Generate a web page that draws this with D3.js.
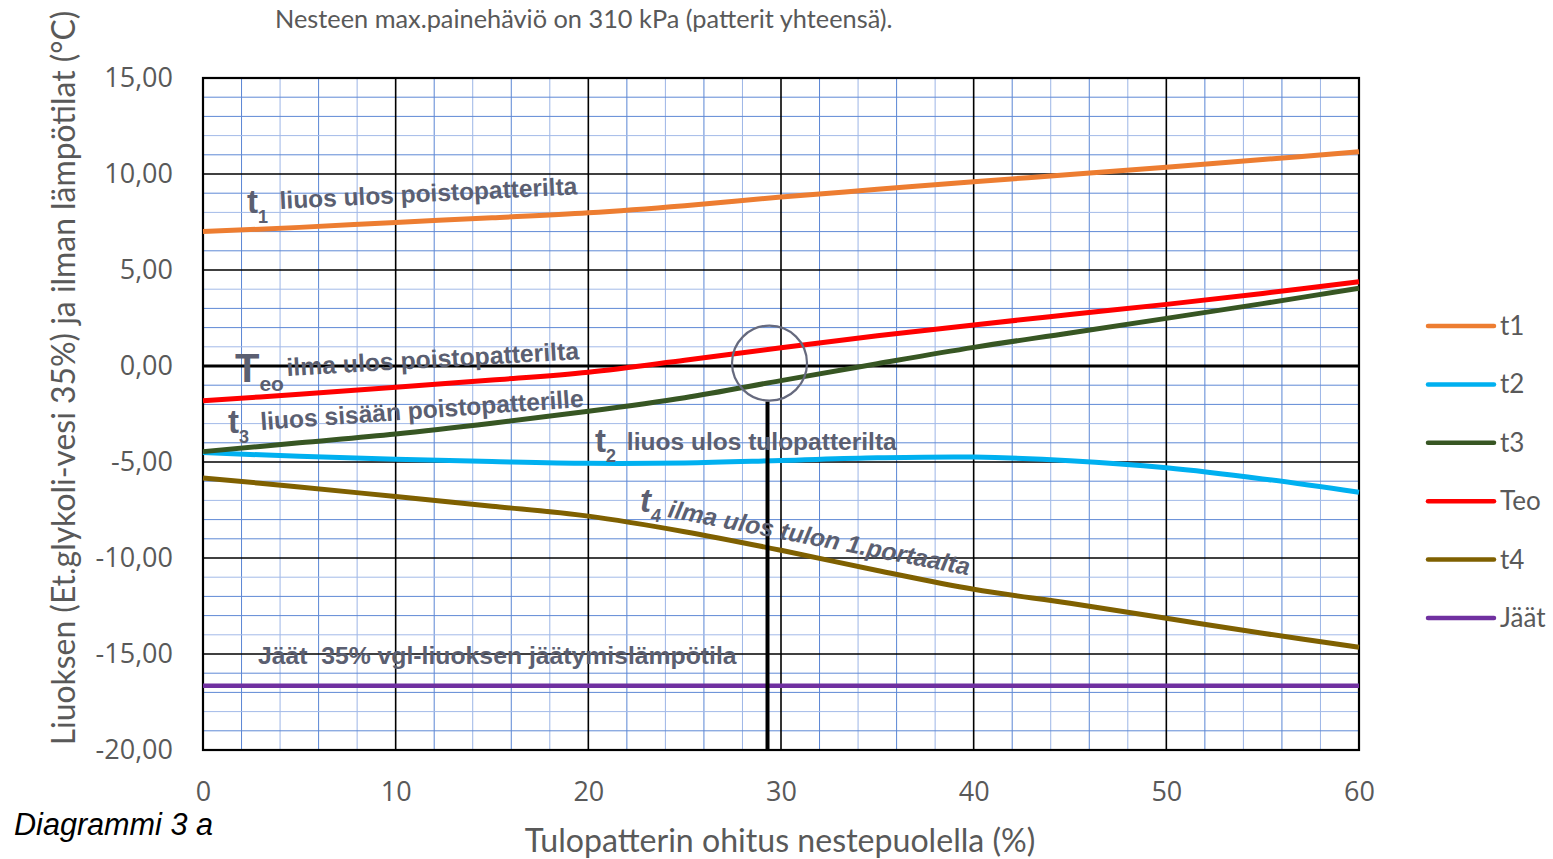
<!DOCTYPE html>
<html>
<head>
<meta charset="utf-8">
<script src="https://cdn.jsdelivr.net/npm/d3@7"></script>
<style>
  html, body { margin: 0; padding: 0; background: #ffffff; }
  svg { display: block; }
</style>
</head>
<body>
<svg id="chart" width="1553" height="859"></svg>
<script>
// Bypass ratio on the liquid side (%)
const bypass = [0, 5, 10, 15, 20, 25, 30, 35, 40, 45, 50, 55, 60];

// Temperatures (°C) at each bypass ratio
const t1  = [7.00, 7.22, 7.48, 7.72, 7.98, 8.35, 8.80, 9.20, 9.60, 9.97, 10.35, 10.75, 11.16];
const t2  = [-4.51, -4.70, -4.86, -4.98, -5.07, -5.05, -4.92, -4.78, -4.74, -4.93, -5.30, -5.88, -6.58];
const t3  = [-4.46, -4.00, -3.54, -2.98, -2.36, -1.65, -0.76, 0.12, 0.97, 1.72, 2.48, 3.25, 4.05];
const teo = [-1.81, -1.47, -1.11, -0.73, -0.32, 0.30, 0.95, 1.57, 2.14, 2.68, 3.21, 3.78, 4.39];
const t4  = [-5.83, -6.30, -6.80, -7.30, -7.82, -8.63, -9.60, -10.65, -11.63, -12.36, -13.14, -13.92, -14.65];
const jaat = [-16.65, -16.65, -16.65, -16.65, -16.65, -16.65, -16.65, -16.65, -16.65, -16.65, -16.65, -16.65, -16.65];

const seriesNames  = ["t1", "t2", "t3", "Teo", "t4", "Jäät"];
const seriesValues = [t1, t2, t3, teo, t4, jaat];
const seriesColors = ["#ed7d31", "#00b0f0", "#375623", "#ff0000", "#7f6000", "#7030a0"];

const xTicks = [0, 10, 20, 30, 40, 50, 60];
const yTicks = [15, 10, 5, 0, -5, -10, -15, -20];

// Operating point marker (bypass %, temperature)
const markerX = 29.3;
const markerCircleY = 0.15;

const svg = d3.select("#chart");
const plot = { left: 203, right: 1359, top: 78, bottom: 750 };

const x = d3.scaleLinear().domain([0, 60]).range([plot.left, plot.right]);
const y = d3.scaleLinear().domain([-20, 15]).range([plot.bottom, plot.top]);

// Minor grid (every 2 % and every 1 °C)
const minor = svg.append("g");
minor.selectAll("line.vx")
  .data(d3.range(0, 61, 2).filter(v => v % 10 !== 0))
  .join("line")
  .attr("x1", d => x(d)).attr("x2", d => x(d))
  .attr("y1", y(-20)).attr("y2", y(15))
  .attr("stroke", (d, i) => (i % 2 ? "#9cb5e6" : "#5a86d4"))
  .attr("stroke-width", 1);
minor.selectAll("line.hy")
  .data(d3.range(-20, 16, 1).filter(v => v % 5 !== 0))
  .join("line")
  .attr("y1", d => y(d)).attr("y2", d => y(d))
  .attr("x1", x(0)).attr("x2", x(60))
  .attr("stroke", (d, i) => (i % 3 === 1 ? "#a3bae8" : "#5f89d5"))
  .attr("stroke-width", 1);

// Major grid
const major = svg.append("g");
major.selectAll("line.vx")
  .data(xTicks)
  .join("line")
  .attr("x1", d => x(d)).attr("x2", d => x(d))
  .attr("y1", y(-20)).attr("y2", y(15))
  .attr("stroke", "#000").attr("stroke-width", 1.6);
major.selectAll("line.hy")
  .data(yTicks)
  .join("line")
  .attr("y1", d => y(d)).attr("y2", d => y(d))
  .attr("x1", x(0)).attr("x2", x(60))
  .attr("stroke", "#000")
  .attr("stroke-width", d => (d === 0 ? 3 : 1.6));

// Plot frame
svg.append("rect")
  .attr("x", x(0)).attr("y", y(15))
  .attr("width", x(60) - x(0)).attr("height", y(-20) - y(15))
  .attr("fill", "none").attr("stroke", "#000").attr("stroke-width", 2.2);

// Axes tick labels (Finnish decimal comma, plain hyphen minus)
const fmt = v => d3.format(".2f")(v).replace(".", ",").replace("\u2212", "-");
const yAxis = d3.axisLeft(y).tickValues(yTicks).tickSize(0).tickPadding(30).tickFormat(fmt);
const gy = svg.append("g").attr("transform", `translate(${x(0)},0)`).call(yAxis);
gy.select(".domain").remove();
gy.attr("font-family", "'Open Sans', sans-serif").attr("font-size", 27);
gy.selectAll("text").attr("fill", "#595959");

const xAxis = d3.axisBottom(x).tickValues(xTicks).tickSize(0).tickPadding(32).tickFormat(d3.format("d"));
const gx = svg.append("g").attr("transform", `translate(0,${y(-20)})`).call(xAxis);
gx.select(".domain").remove();
gx.attr("font-family", "'Open Sans', sans-serif").attr("font-size", 27);
gx.selectAll("text").attr("fill", "#595959");

// Scale a text's font size so it spans a given width
function fitWidth(sel, width) {
  const len = sel.node().getComputedTextLength();
  const fs = parseFloat(sel.attr("font-size"));
  sel.attr("font-size", fs * width / len);
  return sel;
}

// Axis titles
const yTitle = svg.append("text")
  .attr("transform", "translate(75,378) rotate(-90)")
  .attr("text-anchor", "middle")
  .attr("font-family", "Lato, sans-serif")
  .attr("font-size", 28).attr("fill", "#595959")
  .text("Liuoksen (Et.glykoli-vesi 35%) ja ilman lämpötilat (°C)");
fitWidth(yTitle, 735);

const xTitle = svg.append("text")
  .attr("x", 780).attr("y", 852)
  .attr("text-anchor", "middle")
  .attr("font-family", "Lato, sans-serif")
  .attr("font-size", 28).attr("fill", "#595959")
  .text("Tulopatterin ohitus nestepuolella (%)");
fitWidth(xTitle, 511);

const topTitle = svg.append("text")
  .attr("x", 275).attr("y", 28)
  .attr("font-family", "Lato, sans-serif")
  .attr("font-size", 20).attr("fill", "#595959")
  .text("Nesteen max.painehäviö on 310 kPa (patterit yhteensä).");
fitWidth(topTitle, 618);

const diag = svg.append("text")
  .attr("x", 14).attr("y", 835)
  .attr("font-family", "'Liberation Sans', Arial, sans-serif")
  .attr("font-style", "italic")
  .attr("font-size", 24).attr("fill", "#000")
  .text("Diagrammi 3 a");
fitWidth(diag, 199);

// Series lines
const line = d3.line()
  .x((d, i) => x(bypass[i]))
  .y(d => y(d))
  .curve(d3.curveCatmullRom.alpha(0.5));

const order = [5, 4, 1, 2, 3, 0];
svg.append("g").selectAll("path")
  .data(order)
  .join("path")
  .attr("d", k => line(seriesValues[k]))
  .attr("fill", "none")
  .attr("stroke", k => seriesColors[k])
  .attr("stroke-width", k => (k === 5 ? 4.5 : 5))
  .attr("stroke-linejoin", "round");

// Operating point marker
svg.append("line")
  .attr("x1", x(markerX)).attr("x2", x(markerX))
  .attr("y1", y(-1.85)).attr("y2", y(-20))
  .attr("stroke", "#000").attr("stroke-width", 4);
svg.append("circle")
  .attr("cx", x(markerX) + 2).attr("cy", y(markerCircleY))
  .attr("r", 37.5)
  .attr("fill", "none").attr("stroke", "#666a7e").attr("stroke-width", 2.2);

// Curve annotations
const annColor = "#5b5f71";
const annotations = [
  { big: "t", sub: "1", bx: 2.28, by: 7.97, bigSize: 33, subSize: 18,
    text: "liuos ulos poistopatterilta", tx: 4.0, ty: 8.18, angle: -2.8, len: 298, italic: false },
  { big: "T", sub: "eo", bx: 1.66, by: -0.83, bigSize: 40, subSize: 21,
    text: "ilma ulos poistopatterilta", tx: 4.36, ty: -0.52, angle: -3.3, len: 293, italic: false },
  { big: "t", sub: "3", bx: 1.30, by: -3.49, bigSize: 33, subSize: 18,
    text: "liuos sisään poistopatterille", tx: 3.01, ty: -3.33, angle: -4.1, len: 324, italic: false },
  { big: "t", sub: "2", bx: 20.35, by: -4.48, bigSize: 33, subSize: 18,
    text: "liuos ulos tulopatterilta", tx: 22.0, ty: -4.375, angle: 0, len: 270, italic: false },
  { big: "t", sub: "4", bx: 22.68, by: -7.6, bigSize: 33, subSize: 18,
    text: "ilma ulos tulon 1.portaalta", tx: 24.08, ty: -7.86, angle: 11, len: 307, italic: true }
];

const annG = svg.append("g")
  .attr("font-family", "'Liberation Sans', Arial, sans-serif")
  .attr("font-weight", "bold")
  .attr("fill", annColor);

annotations.forEach(a => {
  const head = annG.append("text")
    .attr("x", x(a.bx)).attr("y", y(a.by))
    .attr("font-style", a.italic ? "italic" : "normal");
  head.append("tspan").attr("font-size", a.bigSize).text(a.big);
  head.append("tspan").attr("font-size", a.subSize).attr("dy", a.sub === "eo" ? 9 : 10).text(a.sub);

  const body = annG.append("text")
    .attr("transform", `translate(${x(a.tx)},${y(a.ty)}) rotate(${a.angle})`)
    .attr("font-style", a.italic ? "italic" : "normal")
    .attr("font-size", 22)
    .text(a.text);
  fitWidth(body, a.len);
});

const iceLabel = annG.append("text")
  .attr("x", x(2.85)).attr("y", y(-15.52))
  .attr("font-size", 22)
  .attr("xml:space", "preserve")
  .style("white-space", "pre")
  .text("Jäät  35% vgl-liuoksen jäätymislämpötila");
fitWidth(iceLabel, 479);

// Legend
const legend = svg.append("g");
const legendY = d3.scalePoint().domain(seriesNames).range([326, 618]);
seriesNames.forEach((name, i) => {
  legend.append("line")
    .attr("x1", 1428).attr("x2", 1494)
    .attr("y1", legendY(name)).attr("y2", legendY(name))
    .attr("stroke", seriesColors[i]).attr("stroke-width", 4.5)
    .attr("stroke-linecap", "round");
  legend.append("text")
    .attr("x", 1500).attr("y", legendY(name) + 9)
    .attr("font-family", "Lato, sans-serif")
    .attr("font-size", 26).attr("fill", "#595959")
    .text(name);
});
</script>
</body>
</html>
